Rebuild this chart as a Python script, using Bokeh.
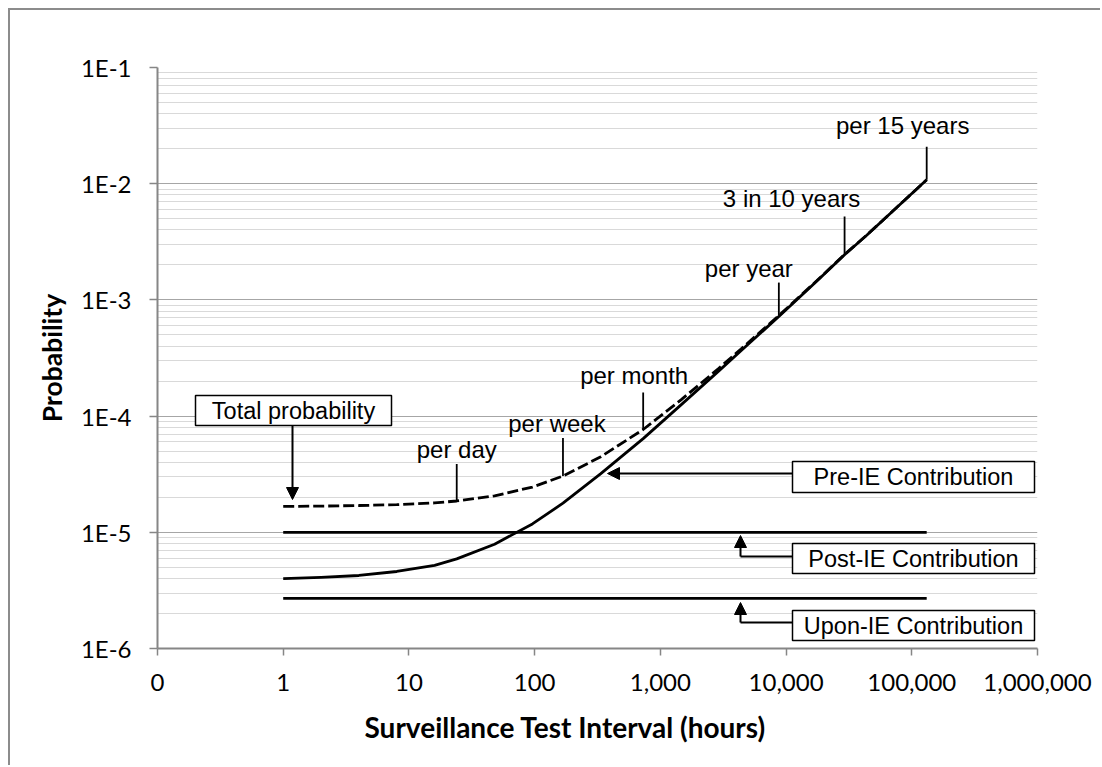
import math
from bokeh.plotting import figure
from bokeh.models import (Range1d, FixedTicker, NumeralTickFormatter, CustomJSTickFormatter,
                          ColumnDataSource, Arrow, NormalHead, Title)
from bokeh.core.properties import value
from bokeh.embed import file_html
from bokeh.resources import INLINE

# ---------------- data ----------------
hours = [1, 2, 4, 8, 16, 24, 48, 96, 168, 336, 730, 1460, 2920, 4380,
         8760, 17520, 29200, 43800, 87600, 131400]
pre_ie = [4.0e-6, 4.1e-6, 4.25e-6, 4.6e-6, 5.2e-6, 5.9e-6, 7.9e-6, 1.18e-5,
          1.78e-5, 3.2e-5, 6.4e-5, 1.25e-4, 2.45e-4, 3.65e-4, 7.2e-4,
          1.45e-3, 2.45e-3, 3.6e-3, 7.2e-3, 1.08e-2]
total = [1.67e-5, 1.68e-5, 1.70e-5, 1.73e-5, 1.79e-5, 1.86e-5, 2.06e-5, 2.45e-5,
         3.05e-5, 4.47e-5, 7.67e-5, 1.38e-4, 2.58e-4, 3.78e-4, 7.33e-4,
         1.46e-3, 2.46e-3, 3.61e-3, 7.21e-3, 1.08e-2]
post_ie_level = 1.0e-5
upon_ie_level = 2.7e-6

event_labels = ["per day", "per week", "per month", "per year", "3 in 10 years", "per 15 years"]
event_hours = [24, 168, 730, 8760, 29200, 131400]

callout_labels = ["Total probability", "Pre-IE Contribution",
                  "Post-IE Contribution", "Upon-IE Contribution"]

x_tick_values = [0.1, 1, 10, 100, 1000, 10000, 100000, 1000000]
y_tick_values = [1e-6, 1e-5, 1e-4, 1e-3, 1e-2, 1e-1]

# ---------------- layout ----------------
FRAME_W, FRAME_H = 880, 581
XMIN, XMAX = x_tick_values[0], x_tick_values[-1]
YMIN, YMAX = y_tick_values[0], y_tick_values[-1]
LX0, LX1 = math.log10(XMIN), math.log10(XMAX)
LY0, LY1 = math.log10(YMIN), math.log10(YMAX)


def fx(px):  # frame pixel (from left) -> data x
    return 10 ** (LX0 + px / FRAME_W * (LX1 - LX0))


def fy(py):  # frame pixel (from top) -> data y
    return 10 ** (LY1 - py / FRAME_H * (LY1 - LY0))


def up(y, px):  # move data y up by px pixels
    return y * 10 ** (px / FRAME_H * (LY1 - LY0))


AX = "#868686"
TICK_FONT = "Lato"
ANN_FONT = "Liberation Sans"

W, H = 1092, 757
ML, MT = 147, 57
p = figure(width=W, height=H, x_axis_type="log", y_axis_type="log",
           x_range=Range1d(XMIN, XMAX), y_range=Range1d(YMIN, YMAX),
           output_backend="svg", toolbar_location=None,
           min_border_left=ML, min_border_top=MT,
           min_border_right=W - ML - FRAME_W, min_border_bottom=H - MT - FRAME_H)
p.styles = {"border-left": "2px solid #8c8c8c", "border-top": "2px solid #8c8c8c",
            "margin-left": "8px", "margin-top": "8px"}
p.outline_line_color = None
p.background_fill_color = "white"
p.border_fill_color = "white"

# axes
p.xaxis.ticker = FixedTicker(ticks=x_tick_values)
p.xaxis.formatter = NumeralTickFormatter(format="0,0")
minor_y = [k * 10 ** e for e in range(-6, -1) for k in range(2, 10)]
p.yaxis.ticker = FixedTicker(ticks=y_tick_values, minor_ticks=minor_y)
p.yaxis.formatter = CustomJSTickFormatter(code='return "1E" + Math.round(Math.log10(tick));')

for ax in (p.xaxis[0], p.yaxis[0]):
    ax.axis_line_color = AX
    ax.axis_line_width = 2
    ax.major_tick_line_color = AX
    ax.major_tick_line_width = 1.5
    ax.major_tick_in = 0
    ax.minor_tick_line_color = None
    ax.major_label_text_font = TICK_FONT
    ax.major_label_text_font_size = "24px"
    ax.major_label_text_color = "#000000"

p.xaxis.major_tick_out = 7
p.xaxis.major_label_standoff = 18
p.yaxis.major_tick_out = 8
p.yaxis.major_label_standoff = 18

p.yaxis.axis_label = "Probability"
p.yaxis.axis_label_text_font = TICK_FONT
p.yaxis.axis_label_text_font_size = "26.5px"
p.yaxis.axis_label_text_font_style = "bold"
p.yaxis.axis_label_text_color = "#000000"
p.yaxis.axis_label_standoff = 10

xt = Title(text="Surveillance Test Interval (hours)", align="left", offset=207,
           text_font=TICK_FONT, text_font_size="28px", text_font_style="bold",
           text_color="#000000", standoff=29)
p.add_layout(xt, "below")

# grid
p.xgrid.grid_line_color = None
p.ygrid.grid_line_color = "#a6a6a6"
p.ygrid.grid_line_width = 1.2
p.ygrid.minor_grid_line_color = "#d9d9d9"
p.ygrid.minor_grid_line_width = 1.2

# series
LW = 2.8
p.line([hours[0], hours[-1]], [post_ie_level, post_ie_level], line_color="black", line_width=LW)
p.line([hours[0], hours[-1]], [upon_ie_level, upon_ie_level], line_color="black", line_width=LW)
p.line(hours, pre_ie, line_color="black", line_width=LW, line_join="round")
p.line(hours, total, line_color="black", line_width=LW, line_dash="11 4")

# event pointers and labels
ptr_len = [37, 38, 37, 33, 38, 33]
txt_gap = [14, 15, 17, 14, 18, 21]
txt_dx = [0, -6, -9, -30, -53, -24]
ev_y = [total[hours.index(h)] for h in event_hours]
ev_top = [up(y, L) for y, L in zip(ev_y, ptr_len)]
p.segment(x0=event_hours, y0=ev_y, x1=event_hours, y1=ev_top, line_color="black", line_width=1.8)
ev_src = ColumnDataSource(dict(x=event_hours, y=ev_top, t=event_labels,
                               dx=txt_dx, dy=[-g for g in txt_gap]))
p.text(x="x", y="y", text="t", x_offset="dx", y_offset="dy", source=ev_src,
       text_font=value(ANN_FONT), text_font_size="24px", text_color="black",
       text_align="center", text_baseline="alphabetic")

# callout boxes (frame pixel centres / sizes)
box_cx = [136, 756, 756, 756]
box_cy = [343, 409.5, 491, 558]
box_w = [196, 242, 242, 242]
box_h = [30, 31, 30, 30]
bx = [fx(v) for v in box_cx]
by = [fy(v) for v in box_cy]

# connectors
head = lambda: NormalHead(size=12, fill_color="black", line_color="black", line_width=1)
p.add_layout(Arrow(end=head(), x_start=fx(135), y_start=fy(358), x_end=fx(135), y_end=fy(432),
                   line_color="black", line_width=2))
p.add_layout(Arrow(end=head(), x_start=fx(635), y_start=fy(406), x_end=fx(450), y_end=fy(406),
                   line_color="black", line_width=2))
for yc, ytip in ((489, 468), (555, 535)):
    p.line([fx(635), fx(583)], [fy(yc), fy(yc)], line_color="black", line_width=2)
    p.add_layout(Arrow(end=head(), x_start=fx(583), y_start=fy(yc), x_end=fx(583), y_end=fy(ytip),
                       line_color="black", line_width=2))

p.rect(x=bx, y=by, width=box_w, height=box_h, width_units="screen", height_units="screen",
       fill_color="white", line_color="black", line_width=1.5)
p.text(x=bx, y=by, text=callout_labels, text_font=value(ANN_FONT), text_font_size="23.5px",
       text_color="black", text_align="center", text_baseline="middle")

open("out.html", "w").write(file_html(p, INLINE))
